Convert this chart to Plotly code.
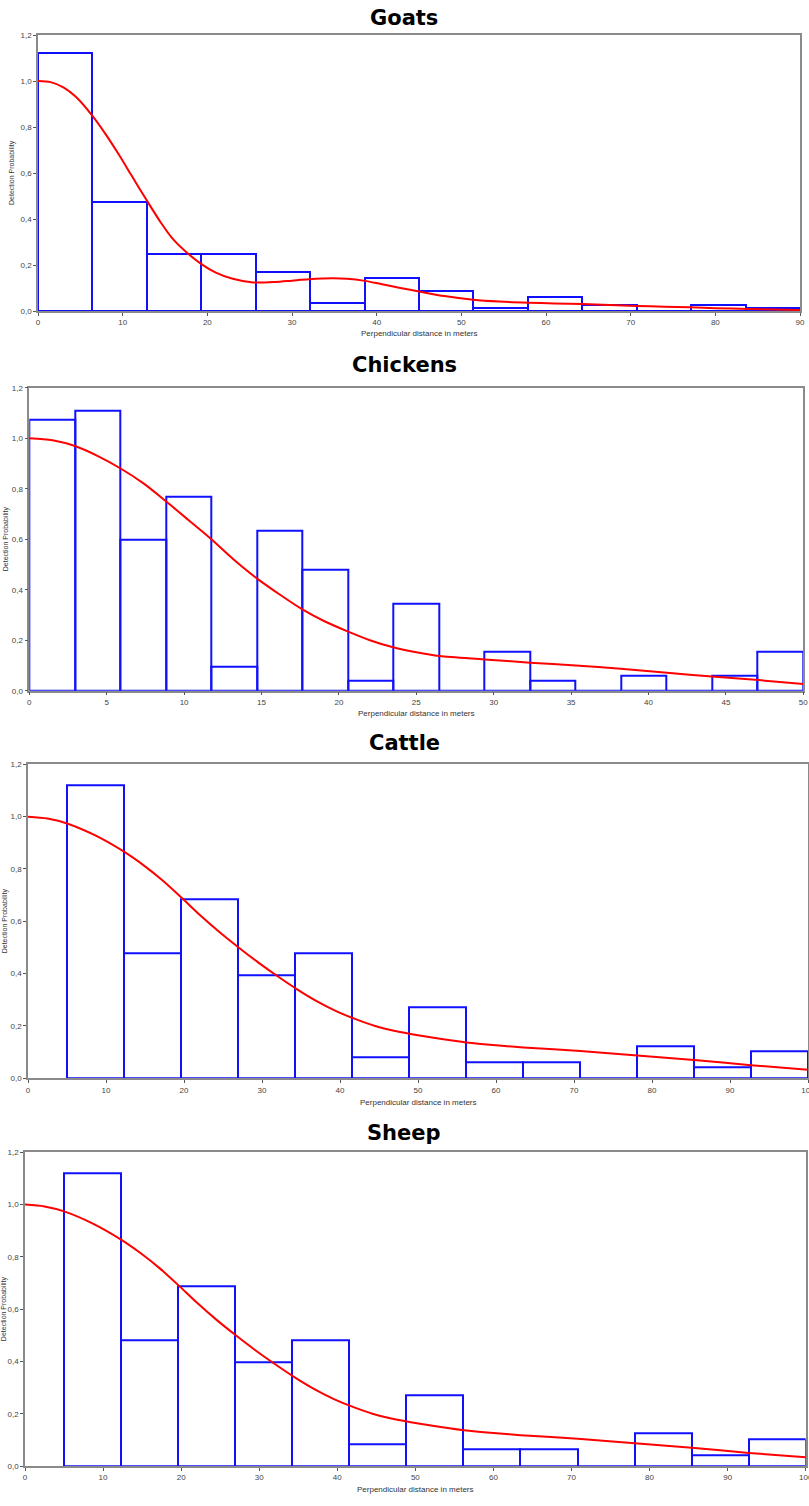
import plotly.graph_objects as go

# ---------------- data ----------------
# Goats
goats_edges = [0, 6.43, 12.86, 19.29, 25.71, 32.14, 38.57, 45.0, 51.43, 57.86, 64.29, 70.71, 77.14, 83.57, 90.0]
goats_heights = [1.12, 0.475, 0.25, 0.25, 0.17, 0.035, 0.145, 0.085, 0.013, 0.06, 0.024, 0.0, 0.025, 0.012]
goats_curve_x = [0, 1.5, 3, 4.5, 6.43, 8, 9.6, 11, 12.86, 14.5, 16, 17.7, 19.3, 21, 23, 25.4, 28, 30, 32, 34.8, 36.5, 38.6, 40.5, 42.8, 45, 48, 51.4, 54.5, 57.9, 61, 64.3, 67.5, 70.7, 74, 77, 80, 84, 87, 90]
goats_curve_y = [1.0, 0.995, 0.972, 0.93, 0.848, 0.768, 0.677, 0.592, 0.48, 0.385, 0.31, 0.25, 0.204, 0.167, 0.14, 0.124, 0.126, 0.132, 0.138, 0.142, 0.14, 0.131, 0.117, 0.1, 0.085, 0.065, 0.049, 0.041, 0.036, 0.033, 0.03, 0.026, 0.022, 0.019, 0.016, 0.012, 0.009, 0.006, 0.004]

# Chickens
chickens_edges = [0, 2.94, 5.88, 8.82, 11.76, 14.71, 17.65, 20.59, 23.53, 26.47, 29.41, 32.35, 35.29, 38.24, 41.18, 44.12, 47.06, 50.0]
chickens_heights = [1.075, 1.11, 0.597, 0.767, 0.097, 0.632, 0.478, 0.04, 0.346, 0.0, 0.155, 0.04, 0.0, 0.058, 0.0, 0.058, 0.155]
chickens_curve_x = [0, 1.5, 2.95, 4.4, 5.9, 7.4, 8.83, 10.3, 11.76, 13.2, 14.7, 16.2, 17.64, 19.1, 20.6, 22.0, 23.5, 25.0, 26.5, 29.4, 32.35, 35.3, 38.2, 41.2, 44.1, 47.1, 50]
chickens_curve_y = [1.0, 0.992, 0.969, 0.93, 0.88, 0.82, 0.75, 0.675, 0.6, 0.52, 0.445, 0.38, 0.322, 0.274, 0.234, 0.2, 0.172, 0.152, 0.137, 0.124, 0.111, 0.1, 0.087, 0.071, 0.056, 0.042, 0.027]

# Cattle
cattle_edges = [5.0, 12.31, 19.62, 26.92, 34.23, 41.54, 48.85, 56.15, 63.46, 70.77, 78.08, 85.38, 92.69, 100.0]
cattle_heights = [1.121, 0.479, 0.686, 0.395, 0.479, 0.082, 0.27, 0.063, 0.063, 0.0, 0.124, 0.041, 0.104]
cattle_curve_x = [0, 2.5, 5, 8.5, 12.3, 15, 17.3, 19.7, 22, 24.5, 27, 29.5, 32, 34.5, 37, 39.5, 42, 44.5, 47.7, 52, 56.2, 60, 63.5, 70.8, 78.1, 85.4, 92.7, 100]
cattle_curve_y = [1.0, 0.993, 0.974, 0.93, 0.866, 0.81, 0.755, 0.69, 0.625, 0.56, 0.5, 0.443, 0.39, 0.34, 0.295, 0.257, 0.226, 0.2, 0.177, 0.155, 0.137, 0.126, 0.118, 0.104, 0.087, 0.07, 0.05, 0.033]

# Sheep
sheep_edges = [5.0, 12.31, 19.62, 26.92, 34.23, 41.54, 48.85, 56.15, 63.46, 70.77, 78.08, 85.38, 92.69, 100.0]
sheep_heights = [1.121, 0.479, 0.686, 0.395, 0.479, 0.082, 0.27, 0.063, 0.063, 0.0, 0.124, 0.041, 0.104]
sheep_curve_x = [0, 2.5, 5, 8.5, 12.3, 15, 17.3, 19.7, 22, 24.5, 27, 29.5, 32, 34.5, 37, 39.5, 42, 44.5, 47.7, 52, 56.2, 60, 63.5, 70.8, 78.1, 85.4, 92.7, 100]
sheep_curve_y = [1.0, 0.993, 0.974, 0.93, 0.866, 0.81, 0.755, 0.69, 0.625, 0.56, 0.5, 0.443, 0.39, 0.34, 0.295, 0.257, 0.226, 0.2, 0.177, 0.155, 0.137, 0.126, 0.118, 0.104, 0.087, 0.07, 0.05, 0.033]

titles = ["Goats", "Chickens", "Cattle", "Sheep"]
x_ranges = [[0, 90], [0, 50], [0, 100], [0, 100]]
x_dticks = [10, 5, 10, 10]
y_ticks = [0.0, 0.2, 0.4, 0.6, 0.8, 1.0, 1.2]
x_label = "Perpendicular distance in meters"
y_label = "Detection Probability"

# ---------------- layout geometry (pixels) ----------------
W, H = 809, 1506
panels = [  # left, right, top, bottom
    (38, 800, 35, 311),
    (29.3, 803.3, 387.7, 690.7),
    (28, 808, 764.3, 1078.3),
    (25, 805.7, 1152.3, 1466),
]
title_y = [18, 365, 743, 1133]
xlab_y = [333, 713, 1102, 1489]
ylab_x = [12, 6, 5, 4]

datasets = [
    (goats_edges, goats_heights, goats_curve_x, goats_curve_y),
    (chickens_edges, chickens_heights, chickens_curve_x, chickens_curve_y),
    (cattle_edges, cattle_heights, cattle_curve_x, cattle_curve_y),
    (sheep_edges, sheep_heights, sheep_curve_x, sheep_curve_y),
]

fig = go.Figure()
annotations = []
BLUE = "#1010ff"
RED = "#ff0000"
AXC = "#8a8a8a"
FONT = "Liberation Sans, Arial, sans-serif"

for i, (edges, heights, cx, cy) in enumerate(datasets):
    n = i + 1
    xa = "x" if n == 1 else f"x{n}"
    ya = "y" if n == 1 else f"y{n}"
    centers = [(edges[k] + edges[k + 1]) / 2 for k in range(len(heights))]
    widths = [edges[k + 1] - edges[k] for k in range(len(heights))]
    fig.add_trace(go.Bar(
        x=centers, y=heights, width=widths, xaxis=xa, yaxis=ya,
        marker=dict(color="rgba(0,0,0,0)", line=dict(color=BLUE, width=2)),
        showlegend=False, hoverinfo="skip",
    ))
    fig.add_trace(go.Scatter(
        x=cx, y=cy, xaxis=xa, yaxis=ya, mode="lines",
        line=dict(color=RED, width=2, shape="spline", smoothing=0.8),
        showlegend=False, hoverinfo="skip",
    ))
    l, r, t, b = panels[i]
    xkey = "xaxis" if n == 1 else f"xaxis{n}"
    ykey = "yaxis" if n == 1 else f"yaxis{n}"
    fig.update_layout(**{
        xkey: dict(
            domain=[l / W, r / W], range=x_ranges[i], anchor=ya,
            tick0=0, dtick=x_dticks[i], ticks="outside", ticklen=3, tickcolor="#555",
            showline=True, linecolor=AXC, linewidth=1.5, mirror=True,
            showgrid=False, zeroline=False, automargin=False,
            ticklabeloverflow="allow",
            tickfont=dict(family=FONT, size=8, color="#444"),
        ),
        ykey: dict(
            domain=[1 - b / H, 1 - t / H], range=[0, 1.2], anchor=xa,
            tickvals=y_ticks, tickformat=".1f", ticks="outside", ticklen=3, tickcolor="#555",
            showline=True, linecolor=AXC, linewidth=1.5, mirror=True,
            showgrid=False, zeroline=False, automargin=False,
            ticklabeloverflow="allow",
            tickfont=dict(family=FONT, size=8, color="#444"),
        ),
    })
    cx_pix = (l + r) / 2
    annotations.append(dict(
        text=f"<b>{titles[i]}</b>", x=404 / W, y=1 - title_y[i] / H,
        xref="paper", yref="paper", xanchor="center", yanchor="middle",
        showarrow=False, font=dict(family="DejaVu Sans, Verdana, sans-serif", size=21, color="#000"),
    ))
    annotations.append(dict(
        text=x_label, x=cx_pix / W, y=1 - xlab_y[i] / H,
        xref="paper", yref="paper", xanchor="center", yanchor="middle",
        showarrow=False, font=dict(family=FONT, size=8, color="#333"),
    ))
    annotations.append(dict(
        text=y_label, x=ylab_x[i] / W, y=1 - ((t + b) / 2) / H,
        xref="paper", yref="paper", xanchor="center", yanchor="middle",
        textangle=-90, showarrow=False, font=dict(family=FONT, size=7, color="#333"),
    ))

fig.update_layout(
    width=W, height=H, margin=dict(l=0, r=0, t=0, b=0),
    paper_bgcolor="white", plot_bgcolor="white",
    separators=", ", bargap=0, barmode="overlay",
    annotations=annotations,
)

fig.write_html("out.html")
